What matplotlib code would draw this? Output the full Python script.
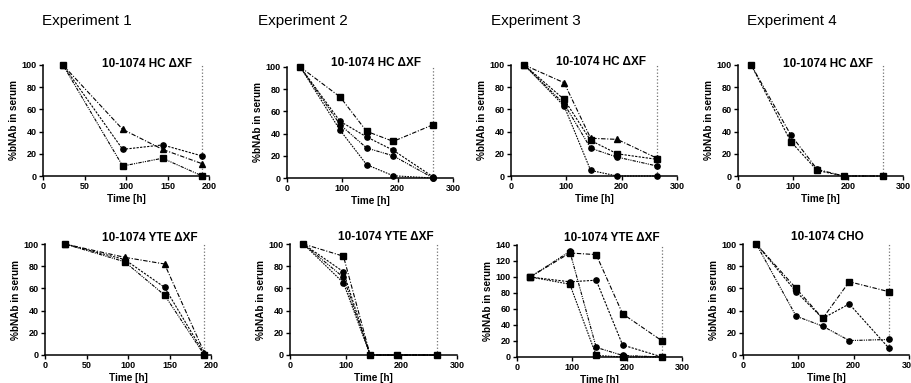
import matplotlib.pyplot as plt
from matplotlib.ticker import MultipleLocator

plt.rcParams['font.family'] = ['Liberation Sans', 'DejaVu Sans']

# sampling times [h]
t_exp1 = [24, 96, 144, 192]
t_long = [24, 96, 144, 192, 264]

experiments = ['Experiment 1', 'Experiment 2', 'Experiment 3', 'Experiment 4']
row_titles = ['10-1074 HC \u0394XF', '10-1074 YTE \u0394XF']
cho_title = '10-1074 CHO'

# top row, 10-1074 HC dXF (% bNAb in serum)
e1_hc_tri = [100, 42, 24, 11]
e1_hc_circ = [100, 24, 28, 18]
e1_hc_sq = [100, 9, 16, 0]

e2_hc_sq = [100, 73, 42, 33, 48]
e2_hc_circ_a = [100, 51, 37, 25, 1]
e2_hc_circ_b = [100, 48, 27, 20, 0]
e2_hc_circ_c = [100, 43, 12, 2, 0]

e3_hc_tri = [100, 84, 34, 33, 16]
e3_hc_sq = [100, 69, 32, 20, 15]
e3_hc_circ_a = [100, 65, 25, 17, 9]
e3_hc_circ_b = [100, 63, 5, 0, 0]

e4_hc_circ = [100, 37, 6, 0, 0]
e4_hc_sq = [100, 31, 5, 0, 0]

# bottom row, 10-1074 YTE dXF / CHO
e1_yte_tri = [100, 88, 82, 2]
e1_yte_circ = [100, 86, 61, 1]
e1_yte_sq = [100, 84, 54, 0]

e2_yte_sq = [100, 89, 0, 0, 0]
e2_yte_circ_a = [100, 75, 0, 0, 0]
e2_yte_circ_b = [100, 70, 0, 0, 0]
e2_yte_circ_c = [100, 65, 0, 0, 0]

e3_yte_sq_a = [100, 130, 128, 54, 20]
e3_yte_circ_a = [100, 94, 96, 15, 0]
e3_yte_circ_b = [100, 132, 12, 2, 0]
e3_yte_sq_b = [100, 91, 2, 0, 0]

e4_cho_sq = [100, 60, 33, 66, 57]
e4_cho_circ_a = [100, 57, 33, 46, 6]
e4_cho_circ_b = [100, 35, 26, 13, 14]

dashes = [(0, (4, 1.5, 1, 1.5)), (0, (2, 1.2)), (0, (3, 1, 1, 1, 1, 1)), (0, (1.5, 1))]

W, H = 911, 383
fig = plt.figure(figsize=(W / 100, H / 100), dpi=100)

# panel: (left px, right px, y100 px, y0 px, times, series, ymax, title, title x px, title y px)
panels = [
    (43, 209, 65, 176, t_exp1, [('^', e1_hc_tri), ('o', e1_hc_circ), ('s', e1_hc_sq)], 100, row_titles[0], 147, 64),
    (287, 453, 67, 178, t_long, [('s', e2_hc_sq), ('o', e2_hc_circ_a), ('o', e2_hc_circ_b), ('o', e2_hc_circ_c)], 100, row_titles[0], 376, 63),
    (511, 677, 65, 176, t_long, [('^', e3_hc_tri), ('s', e3_hc_sq), ('o', e3_hc_circ_a), ('o', e3_hc_circ_b)], 100, row_titles[0], 601, 62),
    (738, 903, 65, 176, t_long, [('o', e4_hc_circ), ('s', e4_hc_sq)], 100, row_titles[0], 828, 64),
    (45, 211, 244, 355, t_exp1, [('^', e1_yte_tri), ('o', e1_yte_circ), ('s', e1_yte_sq)], 100, row_titles[1], 150, 238),
    (290, 457, 244, 355, t_long, [('s', e2_yte_sq), ('o', e2_yte_circ_a), ('o', e2_yte_circ_b), ('o', e2_yte_circ_c)], 100, row_titles[1], 386, 237),
    (517, 682, 245, 357, t_long, [('s', e3_yte_sq_a), ('o', e3_yte_circ_a), ('o', e3_yte_circ_b), ('s', e3_yte_sq_b)], 140, row_titles[1], 612, 238),
    (743, 909, 244, 355, t_long, [('s', e4_cho_sq), ('o', e4_cho_circ_a), ('o', e4_cho_circ_b)], 100, cho_title, 827, 237),
]

for i, (l, r, ytop, ybot, t, series, ymax, title, tx, ty) in enumerate(panels):
    ax = fig.add_axes([l / W, 1 - ybot / H, (r - l) / W, (ybot - ytop) / H])
    xmax = 200 if t is t_exp1 else 300
    for k, (m, vals) in enumerate(series):
        ax.plot(t, vals, color='black', lw=0.8, ls=dashes[k % len(dashes)],
                marker=m, ms=3.8, clip_on=False, zorder=3)
    ax.axvline(t[-1], color='0.45', ls=':', lw=0.9, zorder=1)
    ax.set_xlim(0, xmax)
    ax.set_ylim(0, ymax)
    ax.xaxis.set_major_locator(MultipleLocator(50 if xmax == 200 else 100))
    ax.yaxis.set_major_locator(MultipleLocator(20))
    for s in ['top', 'right']:
        ax.spines[s].set_visible(False)
    for s in ['left', 'bottom']:
        ax.spines[s].set_linewidth(1.1)
    ax.tick_params(length=3, width=1, labelsize=6.5, pad=1.5)
    for lab in ax.get_xticklabels() + ax.get_yticklabels():
        lab.set_fontweight('bold')
    ax.set_xlabel('Time [h]', fontsize=7.2, fontweight='bold', labelpad=2)
    ax.set_ylabel('%bNAb in serum', fontsize=7.2, fontweight='bold', labelpad=2)
    fig.text(tx / W, 1 - ty / H, title, ha='center', va='center',
             fontsize=8.5, fontweight='bold')

exp_x = [87, 303, 536, 792]
for name, x in zip(experiments, exp_x):
    fig.text(x / W, 1 - 21 / H, name, ha='center', va='center', fontsize=11)

fig.savefig('out.png', dpi=100)
